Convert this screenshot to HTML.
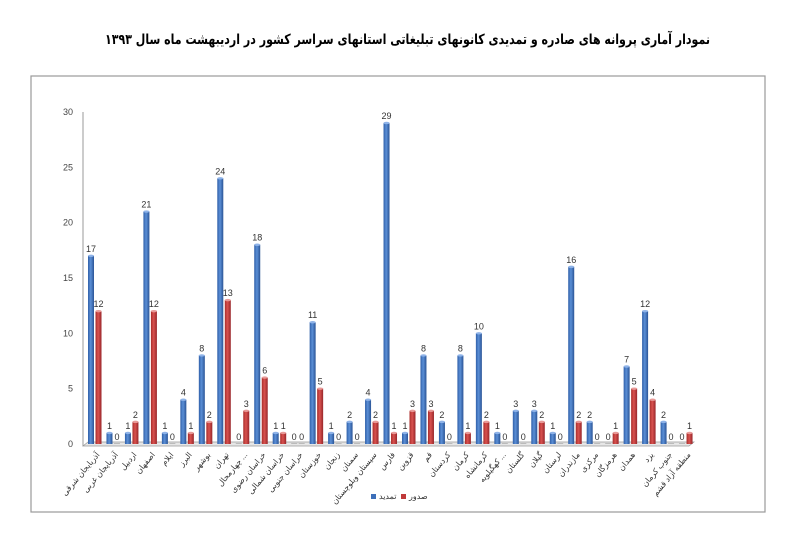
<!DOCTYPE html>
<html><head><meta charset="utf-8"><style>
html,body{margin:0;padding:0;background:#fff;}
svg{display:block;font-family:"Liberation Sans","Noto Sans CJK SC",sans-serif;}
</style></head><body>
<svg id="c" width="800" height="543" viewBox="0 0 800 543" xmlns="http://www.w3.org/2000/svg">
<defs>
<linearGradient id="gb" x1="0" x2="1"><stop offset="0" stop-color="#2f5fa8"/><stop offset="0.45" stop-color="#5b8fd6"/><stop offset="1" stop-color="#2a5496"/></linearGradient>
<linearGradient id="gr" x1="0" x2="1"><stop offset="0" stop-color="#a82c2a"/><stop offset="0.45" stop-color="#d9524f"/><stop offset="1" stop-color="#98262a"/></linearGradient>
</defs>
<text x="105" y="44" textLength="605" lengthAdjust="spacingAndGlyphs" font-size="14" font-weight="bold" fill="#000" font-family="'DejaVu Sans','Noto Sans CJK SC',sans-serif">نمودار آماری پروانه های صادره و تمدیدی کانونهای تبلیغاتی استانهای سراسر کشور در اردیبهشت ماه سال ۱۳۹۳</text>
<rect x="31" y="76" width="734" height="436" fill="#fff" stroke="#9a9a9a" stroke-width="1.2"/>
<line x1="83" y1="112" x2="83" y2="446" stroke="#999" stroke-width="1"/>
<polygon points="83,446 88,442 694,442 689,446" fill="#e6e6e6" stroke="#999" stroke-width="0.7"/>
<g id="g"></g>
<rect x="371" y="494" width="5" height="5" fill="#3d6fb9"/>
<text x="379" y="499" font-size="8" fill="#333">تمدید</text>
<rect x="401" y="494" width="5" height="5" fill="#c0393a"/>
<text x="409" y="499" font-size="8" fill="#333">صدور</text>
</svg>
<script>
var d=[["آذربایجان شرقی",17,12],["آذربایجان غربی",1,0],["اردبیل",1,2],["اصفهان",21,12],["ایلام",1,0],["البرز",4,1],["بوشهر",8,2],["تهران",24,13],["چهارمحال ...",0,3],["خراسان رضوی",18,6],["خراسان شمالی",1,1],["خراسان جنوبی",0,0],["خوزستان",11,5],["زنجان",1,0],["سمنان",2,0],["سیستان وبلوچستان",4,2],["فارس",29,1],["قزوین",1,3],["قم",8,3],["کردستان",2,0],["کرمان",8,1],["کرمانشاه",10,2],["کهگیلویه ...",1,0],["گلستان",3,0],["گیلان",3,2],["لرستان",1,0],["مازندران",16,2],["مرکزی",2,0],["هرمزگان",0,1],["همدان",7,5],["یزد",12,4],["جنوب کرمان",2,0],["منطقه آزاد قشم",0,1]];
var s="",y0=444,k=11.07;
for(var v=0;v<=30;v+=5){var yy=y0-v*k;s+='<text x="73" y="'+(yy+3)+'" text-anchor="end" font-size="9" fill="#444">'+v+'</text>';}
d.forEach(function(r,i){
 var bx=91+i*18.47,rx=bx+7.5;
 [[bx,r[1],"gb","#8fb3e8"],[rx,r[2],"gr","#e89a98"]].forEach(function(b){
  var h=b[1]*k,top=y0-h;
  if(b[1]>0){s+='<rect x="'+(b[0]-3)+'" y="'+top+'" width="6" height="'+h+'" fill="url(#'+b[2]+')"/>';
   s+='<ellipse cx="'+b[0]+'" cy="'+top+'" rx="3" ry="1.2" fill="'+b[3]+'"/>';}
  else s+='<rect x="'+(b[0]-3)+'" y="'+(y0-1)+'" width="6" height="1" fill="#bbb"/>';
  s+='<text x="'+b[0]+'" y="'+(top-4)+'" text-anchor="middle" font-size="9" fill="#333">'+b[1]+'</text>';
 });
 s+='<text transform="translate('+(bx+9)+',455) rotate(-50)" text-anchor="end" font-size="8" fill="#333">'+r[0]+'</text>';
});
document.getElementById("g").innerHTML=s;
</script>
</body></html>
